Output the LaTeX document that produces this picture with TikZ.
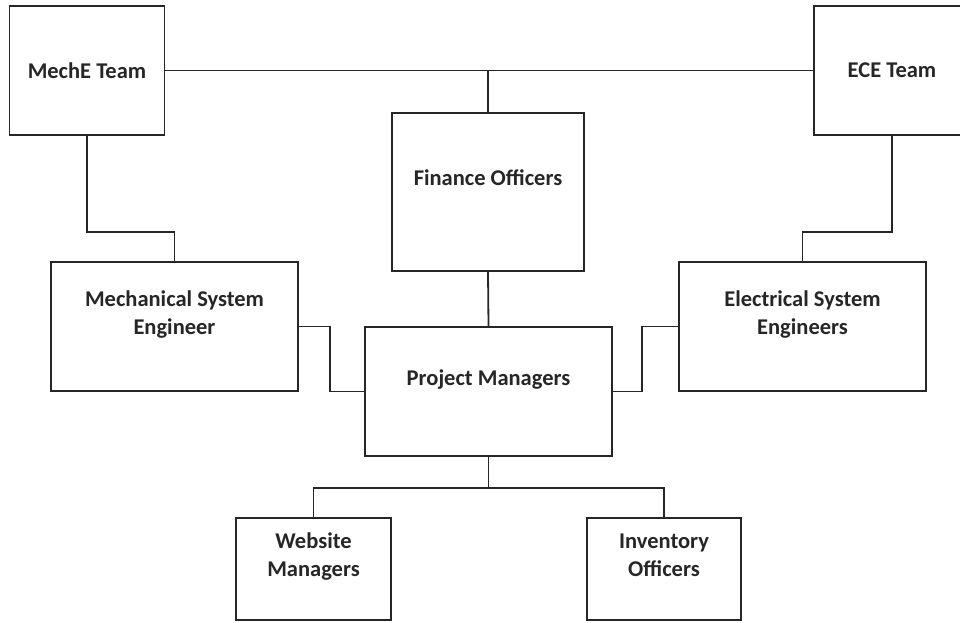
\documentclass[tikz,border=0pt]{standalone}
\usepackage{fontspec}
\setmainfont{Carlito}
\usetikzlibrary{positioning, calc}

\begin{document}
\begin{tikzpicture}[x=1pt, y=-1pt,
    unit/.style={draw=black!85, line width=1.8pt, fill=white, align=center,
        font=\fontsize{22.5}{28}\selectfont\bfseries, text=black!85, inner sep=0pt},
    link/.style={draw=black!85, line width=1.8pt}]
    \clip (0,0) rectangle (960,622);
    \useasboundingbox (0,0) rectangle (960,622);

    % Team boxes
    \node[unit, minimum width=155, minimum height=129] (meche) at (87,70.5) {MechE Team};
    \node[unit, minimum width=156, minimum height=129] (ece) at (892,70.5) {ECE Team};

    % Middle boxes
    \node[unit, minimum width=192, minimum height=158] (finance) at (488,192) {Finance Officers\\ \mbox{}};
    \node[unit, minimum width=247, minimum height=129] (mech) at (174.5,326.5) {Mechanical System\\ Engineer\\ \mbox{}};
    \node[unit, minimum width=247, minimum height=129] (elec) at (802.5,326.5) {Electrical System\\ Engineers\\ \mbox{}};
    \node[unit, minimum width=247, minimum height=129] (pm) at (488.5,391.5) {Project Managers\\ \mbox{}};

    % Bottom boxes
    \node[unit, minimum width=155, minimum height=102] (web) at (313.5,569) {Website\\ Managers\\ \mbox{}};
    \node[unit, minimum width=154, minimum height=102] (inv) at (664,569) {Inventory\\ Officers\\ \mbox{}};

    % Connections
    \draw[link] (meche.east) -- (ece.west);
    \draw[link] (finance.north) -- (finance.north |- meche.east);
    \draw[link] (meche.south) -- ++(0,96) -| (mech.north);
    \draw[link] (ece.south) -- ++(0,96) -| (elec.north);
    \draw[link] (finance.south) -- (pm.north);
    \draw[link] (mech.east) -- ++(31,0) |- (pm.west);
    \draw[link] (elec.west) -- ++(-36,0) |- (pm.east);
    \draw[link] (pm.south) -- ++(0,31) coordinate (split);
    \draw[link] (split) -| (web.north);
    \draw[link] (split) -| (inv.north);
\end{tikzpicture}
\end{document}
